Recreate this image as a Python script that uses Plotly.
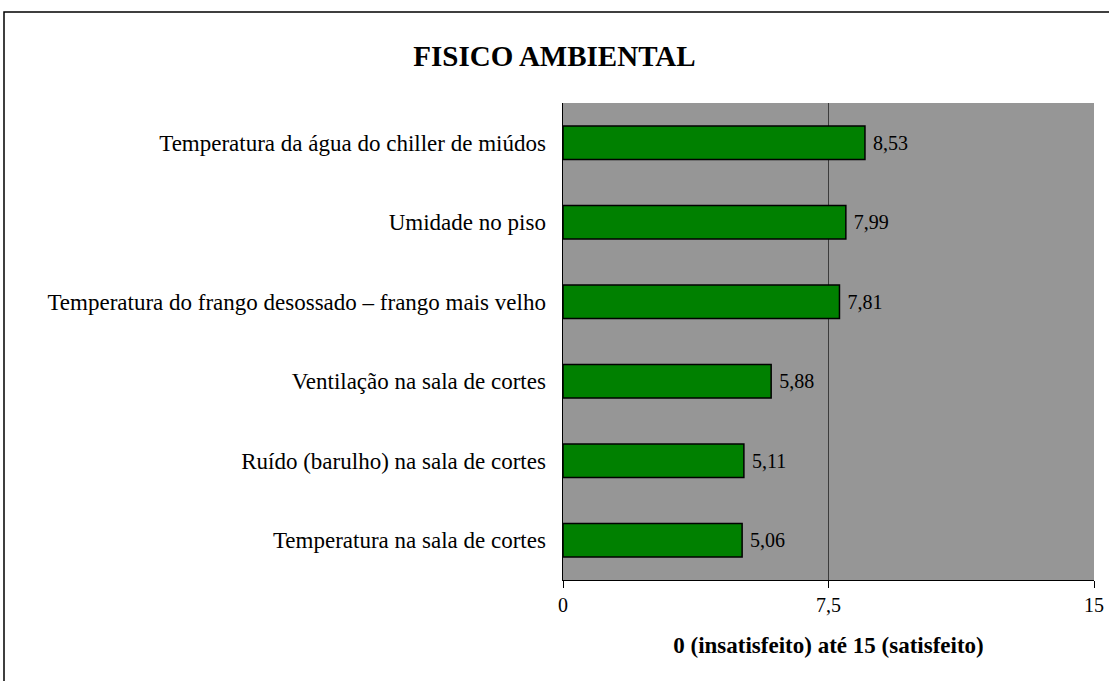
import plotly.graph_objects as go

categories = [
    "Temperatura da água do chiller de miúdos",
    "Umidade no piso",
    "Temperatura do frango desossado – frango mais velho",
    "Ventilação na sala de cortes",
    "Ruído (barulho) na sala de cortes",
    "Temperatura na sala de cortes",
]
values = [8.53, 7.99, 7.81, 5.88, 5.11, 5.06]
value_labels = ["8,53", "7,99", "7,81", "5,88", "5,11", "5,06"]
tick_vals = [0, 7.5, 15]
tick_text = ["0", "7,5", "15"]

FONT = "Liberation Serif, Times New Roman, serif"

fig = go.Figure(go.Bar(
    x=values, y=categories, orientation="h",
    marker=dict(color="#008000", line=dict(color="black", width=1.5)),
    width=0.42,
    text=value_labels, texttemplate="\u00a0%{text}", textposition="outside",
    textfont=dict(family=FONT, size=20, color="black"),
    cliponaxis=False,
))

fig.update_layout(
    width=1109, height=681,
    margin=dict(l=563, r=15, t=103, b=101, autoexpand=False),
    paper_bgcolor="white", plot_bgcolor="#969696",
    font=dict(family=FONT, size=20, color="black"),
    title=dict(text="<b>FISICO AMBIENTAL</b>", x=0.5, xanchor="center",
               y=1 - 56 / 681, yanchor="middle",
               font=dict(family=FONT, size=29, color="black")),
    showlegend=False,
    xaxis=dict(range=[0, 15], tickvals=tick_vals, ticktext=tick_text,
               showline=True, linecolor="black", linewidth=1,
               ticks="outside", ticklen=7, tickcolor="black",
               showgrid=True, gridcolor="#3c3c3c", gridwidth=1,
               zeroline=False, automargin=False,
               tickfont=dict(family=FONT, size=20),
               title=dict(text="<b>0 (insatisfeito) até 15 (satisfeito)</b>",
                          font=dict(family=FONT, size=23), standoff=21)),
    yaxis=dict(categoryorder="array", categoryarray=categories,
               autorange="reversed", automargin=False,
               showline=True, linecolor="black", linewidth=1,
               ticks="", showgrid=False,
               tickfont=dict(family=FONT, size=23), ticksuffix="  "),
    shapes=[dict(type="rect", xref="paper", yref="paper",
                 x0=(4 - 563) / 531, x1=(1120 - 563) / 531,
                 y0=(580 - 700) / 477, y1=(580 - 12) / 477,
                 line=dict(color="black", width=1.5), layer="below")],
)

fig.write_html(
    "out.html",
    config={"displayModeBar": False},
    post_script="document.body.style.margin='0';document.body.style.overflow='hidden';",
)
